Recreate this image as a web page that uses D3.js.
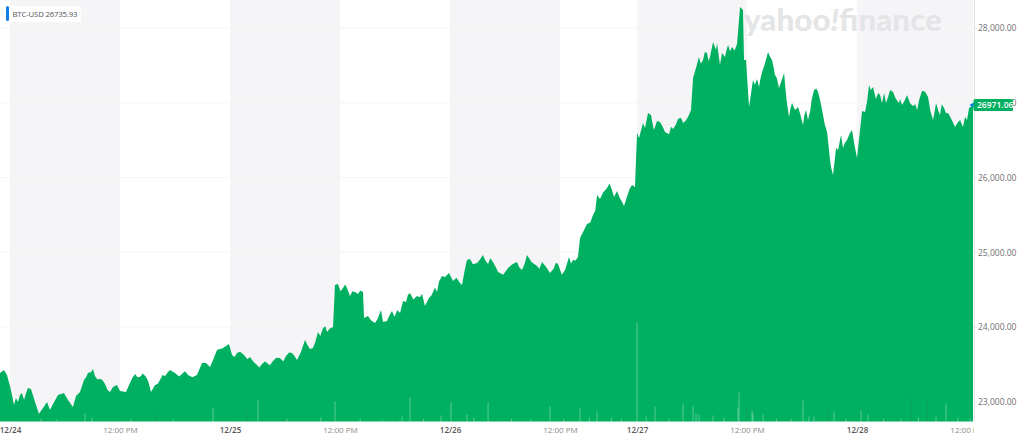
<!DOCTYPE html>
<html>
<head>
<meta charset="utf-8">
<script src="https://cdn.jsdelivr.net/npm/d3@7"></script>
<style>
  html, body { margin: 0; padding: 0; background: #fff; overflow: hidden; }
  text { font-family: "Open Sans", sans-serif; }
</style>
</head>
<body>
<div class="chart-holder"></div>
<script>
// Price samples: hours since 12/24 00:00 on the chart's own time line (the gap before 12/27 is closed up)
var priceHours = [
	-1.09, -0.65, -0.33, 0, 0.22, 0.44, 0.65, 0.87, 1.09, 1.31, 1.53, 1.75, 1.96, 2.29, 2.73, 3.16, 3.6, 4.04, 4.36, 4.69,
	5.24, 5.89, 6.33, 6.87, 7.2, 7.64, 8.07, 8.51, 8.84, 9.27, 9.82, 10.36, 10.91, 11.24, 11.67, 12, 12.65, 13.09, 13.64, 14.18,
	14.84, 15.38, 15.82, 16.36, 16.91, 17.24, 17.45, 18, 18.87, 19.42, 20.4, 20.95, 21.38, 21.82, 22.15, 22.58, 23.24, 23.89,
	24.22, 24.76, 25.53, 26.18, 26.95, 27.49, 28.04, 28.69, 29.45, 30.11, 30.76, 31.31, 31.75, 32.18, 32.73, 33.05, 33.6, 34.15,
	34.58, 35.24, 35.45, 35.78, 36.33, 36.76, 37.09, 37.64, 37.96, 38.51, 38.62, 39.05, 39.82, 40.47, 40.69, 41.13, 41.67, 42.55,
	42.87, 43.2, 43.64, 44.4, 44.95, 45.27, 46.15, 46.58, 47.13, 47.45, 47.89, 48.33, 49.09, 49.31, 49.85, 50.18, 50.95, 51.6,
	52.15, 52.69, 53.24, 54.33, 55.31, 55.85, 56.4, 57.49, 58.04, 58.91, 59.78, 60.55, 60.98, 61.42, 61.96, 62.18, 62.95, 63.6,
	64.04, 64.36, 65.13, 65.67, 65.89, 66.22, 66.98, 67.85, 68.18, 68.4, 68.62, 69.05, 69.27, 69.6, 69.93, 70.25, 70.58, 70.91,
	71.45, 72.33, 72.87, 73.42, 73.96, 74.29, 74.51, 75.16, 75.6, 76.04, 76.36, 76.69, 77.02, 77.13, 77.45, 77.67, 78, 78.33,
	78.76, 79.31, 79.64, 79.96, 80.07, 80.29, 80.62, 81.05, 81.49, 81.71, 82.04, 82.69, 83.13, 83.45, 83.89, 84.44, 84.98, 85.31,
	85.64, 85.96, 86.51, 86.84, 87.05, 87.71, 88.15, 88.69, 89.13, 89.45, 89.78, 90.11, 90.33, 90.65, 90.87, 91.31, 91.85, 92.4,
	92.95, 93.27, 93.71, 94.15, 94.47, 94.91, 95.13, 95.35, 95.56, 96, 96.33, 96.98, 97.31, 97.85, 98.51, 98.95, 99.49, 100.15,
	100.69, 101.02, 101.45, 101.89, 102.33, 103.09, 103.64, 103.96, 104.18, 104.4, 104.62, 105.05
];
var prices = [
	23388, 23428, 23361, 23214, 23094, 22960, 23053, 23000, 23094, 23120, 23027, 23120, 23187, 23174, 23000, 22840, 22920, 23000, 22893, 22973,
	23094, 23120, 23027, 22933, 23080, 23134, 23294, 23388, 23401, 23348, 23308, 23241, 23134, 23200, 23227, 23147, 23134, 23254, 23374, 23334,
	23334, 23134, 23227, 23294, 23348, 23401, 23428, 23388, 23388, 23361, 23361, 23521, 23521, 23468, 23562, 23695, 23722, 23775,
	23628, 23655, 23628, 23602, 23495, 23508, 23521, 23548, 23588, 23615, 23655, 23562, 23669, 23829, 23709, 23722, 23936, 23989,
	23936, 24003, 24564, 24578, 24524, 24524, 24417, 24471, 24444, 24471, 24123, 24150, 24056, 24230, 24070, 24083, 24217, 24190,
	24350, 24337, 24457, 24417, 24444, 24284, 24471, 24471, 24685, 24671, 24725, 24618, 24591, 24564, 24899, 24912, 24858, 24965,
	24845, 24872, 24738, 24792, 24872, 24765, 24965, 24818, 24872, 24725, 24845, 24765, 24939, 24899, 24939, 25193, 25380, 25500,
	25768, 25714, 25861, 25834, 25741, 25821, 25620, 25901, 25875, 26597, 26530, 26730, 26663, 26864, 26837, 26637, 26757, 26744,
	26610, 26650, 26784, 26730, 26810, 26904, 27332, 27613, 27573, 27666, 27613, 27813, 27706, 27800, 27506, 27666, 27613, 27773,
	27746, 27786, 28281, 28241, 27573, 27573, 26944, 27305, 27319, 27212, 27412, 27680, 27573, 27372, 27198, 27399, 26810, 26998,
	26904, 26944, 26703, 26904, 26770, 27171, 27145, 26837, 26610, 26235, 26035, 26396, 26369, 26570, 26396, 26503, 26637, 26262,
	26891, 26877, 27238, 27212, 27051, 27105, 26998, 27131, 26998, 27171, 27145, 26998, 26971, 27105, 26958, 26904, 27158, 27078,
	26770, 26998, 26837, 26931, 26864, 26677, 26770, 26677, 26810, 26770, 26931, 26971
];

// Finer teeth of the outline, read separately and merged into the samples above
var toothHours = [8.3, 9.05, 9.55, 10.1, 10.65, 13.35, 13.9, 14.5, 15.1, 16.1, 16.65, 18.45, 19.1, 19.9,
	24.5, 25.1, 25.9, 26.6, 27.2, 27.8, 28.35, 29.05, 29.8, 30.45, 31, 32.45, 33.3, 33.85, 34.4, 34.9,
	36.05, 36.55, 37.35, 38.2, 39.4, 40.1, 41.4, 41.95, 42.25, 43.4, 44, 44.7, 45.7, 45.95, 46.35, 46.8,
	48.7, 49.6, 50.5, 51.25, 51.85, 52.4, 53, 53.8, 54.8, 55.55, 56.15, 56.9, 57.75, 58.5, 59.3, 59.55, 60.2, 61.2, 61.7,
	63.3, 63.85, 64.7, 65.4, 66.5, 66.75, 67.4, 67.6,
	70.05, 71.2, 71.9, 72.1, 72.6, 73.2, 73.7, 74.8, 75.35, 75.8, 76.2, 76.5, 78.15, 78.55, 79.05,
	81.25, 81.85, 82.35, 82.9, 83.3, 83.65, 84.15, 84.7, 85.15, 86.2, 86.65, 87.3, 87.45, 87.95, 88.4, 88.9, 89.3, 89.6, 91.05, 91.6, 92.1,
	93.5, 93.9, 94.3, 94.7, 95.8, 96.6, 97.1, 97.6, 98.2, 98.75, 99.2, 99.8, 100.4, 100.85, 101.25, 101.65, 102.1, 102.7, 103.35, 103.8];
var toothPrices = [23330, 23440, 23300, 23290, 23160, 23320, 23330, 23380, 23270, 23240, 23360, 23340, 23410, 23330,
	23600, 23670, 23570, 23530, 23460, 23540, 23490, 23590, 23540, 23660, 23620, 23760, 23800, 23880, 24010, 23980,
	24480, 24570, 24480, 24490, 24090, 24110, 24160, 24140, 24230, 24430, 24370, 24400, 24390, 24420, 24530, 24610,
	24660, 24760, 24840, 24900, 24890, 24920, 24800, 24700, 24840, 24800, 24850, 24870, 24780, 24800, 24780, 24860, 24700, 24850, 24890,
	25400, 25560, 25800, 25920, 25730, 25680, 25780, 25850,
	26750, 26680, 26580, 26680, 26700, 26800, 26760, 27450, 27520, 27680, 27560, 27700, 27700, 27690, 27700,
	27240, 27310, 27520, 27620, 27470, 27330, 27290, 27050, 26930, 26850, 26830, 26900, 27040, 27190, 27020, 26700, 26420, 26120, 26460, 26590, 26450,
	27020, 27170, 27130, 27130, 27080, 27060, 27050, 27030, 26990, 26980, 27050, 27150, 26890, 26870, 26900, 26980, 26860, 26780, 26730, 26720];

// Volume spikes, relative height only (no volume axis in the picture)
var volumeHours = [3.4, 5.1, 8.18, 8.95, 13.2, 17.8, 22.15, 27.05, 30.2, 33.9, 35.45, 38.2, 40.6, 42.76, 43.64, 45.1, 47.02, 48.11, 49.85, 50.6, 52.15, 54.7, 56.8, 58.91, 60.4, 62.18, 63.2, 64.04, 65.6, 66.7, 68.4, 69.4, 70.36,
	71.9, 73.42, 74.51, 74.84, 75.16, 76.69, 77.9, 79.42, 79.53, 80.95, 81.05, 82.15, 83.6, 85.2, 86.51, 87.16, 87.71, 89.89, 91.2, 92.84, 93.6, 95.3, 97.2, 99.1, 101.02, 102.1, 103.4, 104.73];
var volumes = [3, 2, 8, 4, 3, 2, 14, 22, 3, 4, 20, 3, 2, 5, 24, 3, 6, 19, 7, 4, 19, 3, 2, 15, 3, 14, 4, 10, 4, 3, 99, 5, 15,
	3, 18, 15, 8, 7, 6, 4, 14, 29, 11, 8, 7, 3, 3, 21, 5, 5, 10, 3, 11, 7, 3, 3, 4, 5, 18, 4, 3];
var downVolumeHours = [15.93, 25.85, 42.1, 80.4, 89.24, 98.29, 100.04];
var downVolumes = [8, 10, 4, 14, 12, 24, 20];

var priceTicks = [23000, 24000, 25000, 26000, 27000, 28000];
var timeTicks = [0, 12, 24, 36, 48, 60, 68.4, 80.4, 92.4, 104.4];
var timeLabels = ["12/24", "12:00 PM", "12/25", "12:00 PM", "12/26", "12:00 PM", "12/27", "12:00 PM", "12/28", "12:00 PM"];
var bandStarts = [0, 24, 48, 68.4, 92.4];
var bandEnds = [12, 36, 60, 80.4, 105.05];

var legendSymbol = "BTC-USD";
var legendValue = "26735.93";
var lastPrice = 26971.06;

// Set up image size
var w = 1024;
var h = 440;
var plotRight = 974;
var plotBottom = 421.5;

var svg = d3.select(".chart-holder")
	.append("svg")
	.attr("width", w)
	.attr("height", h)
	.style("display", "block");

var x = d3.scaleLinear().domain([-1.09, 105.05]).range([0, 973]);
var y = d3.scaleLinear().domain([22738, 28374]).range([plotBottom, 0]);
var volY = d3.scaleLinear().domain([0, 100]).range([plotBottom, plotBottom - 100]);

// Merge the two sets of samples in time order
var merged = priceHours.map(function(d, i) { return [d, prices[i]]; })
	.concat(toothHours.map(function(d, i) { return [d, toothPrices[i]]; }))
	.sort(function(a, b) { return d3.ascending(a[0], b[0]); });

// Clip for the time labels, the last one is cut by the plot edge
svg.append("clipPath").attr("id", "time-clip")
	.append("rect").attr("x", 0).attr("y", 420).attr("width", plotRight).attr("height", 20);

// Day/night bands
svg.selectAll(".band")
	.data(bandStarts)
	.enter().append("rect")
	.attr("class", "band")
	.attr("x", function(d) { return x(d); })
	.attr("y", 0)
	.attr("width", function(d, i) { return x(bandEnds[i]) - x(d); })
	.attr("height", plotBottom)
	.attr("fill", "#f5f5f7");

// Grid lines
svg.selectAll(".grid")
	.data(priceTicks)
	.enter().append("line")
	.attr("class", "grid")
	.attr("x1", 0)
	.attr("x2", plotRight)
	.attr("y1", function(d) { return y(d); })
	.attr("y2", function(d) { return y(d); })
	.attr("stroke", "#f5f5f6")
	.attr("stroke-width", 1);

// Watermark goes under the area
var mark = svg.append("text")
	.attr("x", 744)
	.attr("y", 31)
	.attr("textLength", 198)
	.attr("lengthAdjust", "spacingAndGlyphs")
	.style("font-family", "Lato, sans-serif")
	.style("font-size", "31px")
	.style("font-weight", 900)
	.attr("fill", "#e4e5e7");
mark.append("tspan").text("yahoo");
mark.append("tspan").style("font-style", "italic").text("!");
mark.append("tspan").text("finance");

// Price area
var area = d3.area()
	.x(function(d) { return x(d[0]); })
	.y0(plotBottom)
	.y1(function(d) { return y(d[1]); });

svg.append("path")
	.datum(merged)
	.attr("d", area)
	.attr("fill", "#00b061");

// Volume spikes on top of the area
svg.selectAll(".vol")
	.data(volumeHours)
	.enter().append("rect")
	.attr("class", "vol")
	.attr("x", function(d) { return x(d) - 0.5; })
	.attr("y", function(d, i) { return volY(volumes[i]); })
	.attr("width", 1)
	.attr("height", function(d, i) { return plotBottom - volY(volumes[i]); })
	.attr("fill", "#fff")
	.attr("opacity", 0.35);

svg.selectAll(".vol-down")
	.data(downVolumeHours)
	.enter().append("rect")
	.attr("class", "vol-down")
	.attr("x", function(d) { return x(d) - 0.5; })
	.attr("y", function(d, i) { return volY(downVolumes[i]); })
	.attr("width", 1.5)
	.attr("height", function(d, i) { return plotBottom - volY(downVolumes[i]); })
	.attr("fill", "#555")
	.attr("opacity", 0.12);

// Right axis
var yAxis = d3.axisRight(y)
	.tickValues(priceTicks)
	.tickFormat(d3.format(",.2f"))
	.tickSize(3)
	.tickPadding(1);

var yAxisG = svg.append("g")
	.attr("transform", "translate(" + plotRight + ",0)")
	.call(yAxis);
yAxisG.select(".domain").attr("stroke", "#e2e2e4").attr("d", "M0.5,0V" + plotBottom);
yAxisG.selectAll(".tick line").attr("stroke", "#e2e2e4");
yAxisG.selectAll("text")
	.style("font-size", "8.5px")
	.attr("fill", "#6e6e6e");

// Bottom axis, clipped so the last label is cut by the plot edge
var xAxis = d3.axisBottom(x)
	.tickValues(timeTicks)
	.tickFormat(function(d, i) { return timeLabels[i]; })
	.tickSize(0)
	.tickPadding(6);

var xAxisG = svg.append("g")
	.attr("clip-path", "url(#time-clip)")
	.append("g")
	.attr("transform", "translate(0," + plotBottom + ")")
	.call(xAxis);
xAxisG.select(".domain").remove();
xAxisG.selectAll("text")
	.style("font-size", "8px")
	.style("font-weight", function(d, i) { return timeLabels[i].indexOf("/") > 0 ? 600 : 400; })
	.attr("fill", function(d, i) { return timeLabels[i].indexOf("/") > 0 ? "#555" : "#8a8a8a"; });

// Legend
svg.append("rect")
	.attr("x", 6).attr("y", 6).attr("width", 75).attr("height", 16)
	.attr("fill", "#fff");
svg.append("rect")
	.attr("x", 6).attr("y", 6).attr("width", 3).attr("height", 15).attr("rx", 1.5)
	.attr("fill", "#0f7fe8");
svg.append("text")
	.attr("x", 12.5).attr("y", 17)
	.attr("textLength", 65)
	.style("font-size", "7.8px")
	.attr("fill", "#555")
	.text(legendSymbol + " " + legendValue);

// Last price tag
var tagY = y(lastPrice);
svg.append("path")
	.attr("d", d3.symbol().type(d3.symbolTriangle).size(12)())
	.attr("transform", "translate(972.5," + tagY + ") rotate(-90)")
	.attr("fill", "#0f7fe8");
svg.append("rect")
	.attr("x", 973.5).attr("y", tagY - 6).attr("width", 39.5).attr("height", 12).attr("rx", 1.5)
	.attr("fill", "#00b061");
svg.append("text")
	.attr("x", 977).attr("y", tagY + 3)
	.style("font-size", "8.5px")
	.style("font-weight", 600)
	.attr("fill", "#fff")
	.text(lastPrice.toFixed(2));
</script>
</body>
</html>
